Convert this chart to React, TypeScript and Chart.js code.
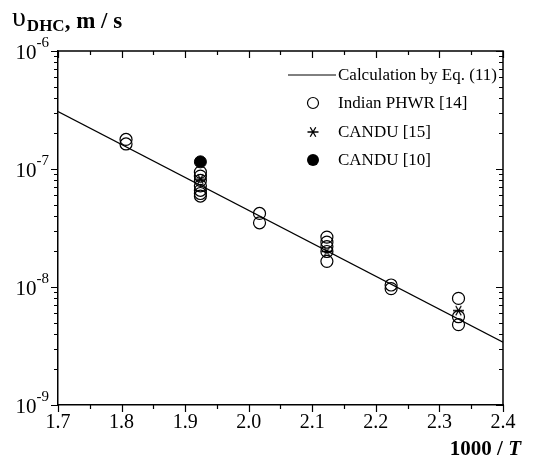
import React, { useEffect, useRef } from 'react';
import { Chart, registerables } from 'chart.js';

Chart.register(...registerables);

const FONT = "'Liberation Serif', 'Times New Roman', serif";

// Calculation by Eq. (11) (straight line in log space)
const lineX = [1.7, 2.4];
const lineY = [3.07e-7, 3.4e-9];

// Indian PHWR [14]
const phwrX = [
  1.807, 1.807,
  1.924, 1.924, 1.924, 1.924, 1.924, 1.924, 1.924,
  2.017, 2.017,
  2.123, 2.123, 2.123, 2.123, 2.123,
  2.224, 2.224,
  2.33, 2.33, 2.33,
];
const phwrY = [
  1.78e-7, 1.63e-7,
  9.4e-8, 8.7e-8, 8.0e-8, 7.2e-8, 6.6e-8, 6.2e-8, 5.9e-8,
  4.2e-8, 3.5e-8,
  2.65e-8, 2.4e-8, 2.2e-8, 2.0e-8, 1.65e-8,
  1.04e-8, 9.7e-9,
  8.0e-9, 5.6e-9, 4.8e-9,
];

// CANDU [15]
const candu15X = [1.924, 2.123, 2.33];
const candu15Y = [8.2e-8, 2.0e-8, 6.3e-9];

// CANDU [10]
const candu10X = [1.924];
const candu10Y = [1.15e-7];

const xMin = 1.7;
const xMax = 2.4;
const xStep = 0.1;
const yDecades = [-9, -8, -7, -6];
const legendLabels = ['Calculation by Eq. (11)', 'Indian PHWR [14]', 'CANDU [15]', 'CANDU [10]'];

function toPoints(xs: number[], ys: number[]) {
  return xs.map((x, i) => ({ x, y: ys[i] }));
}

function makeAsterisk(size: number): HTMLCanvasElement {
  const c = document.createElement('canvas');
  c.width = size;
  c.height = size;
  const g = c.getContext('2d')!;
  drawAsterisk(g, size / 2, size / 2, size / 2 - 1);
  return c;
}

function drawAsterisk(g: CanvasRenderingContext2D, cx: number, cy: number, r: number) {
  g.save();
  g.strokeStyle = '#000';
  g.lineWidth = 1.3;
  g.beginPath();
  const angles = [0, Math.PI / 3, -Math.PI / 3];
  for (const a of angles) {
    const dx = Math.cos(a) * r;
    const dy = Math.sin(a) * r;
    g.moveTo(cx - dx, cy - dy);
    g.lineTo(cx + dx, cy + dy);
  }
  g.stroke();
  g.restore();
}

const decorPlugin = {
  id: 'decor',
  afterDraw(chart: any) {
    const ctx: CanvasRenderingContext2D = chart.ctx;
    const { left, right, top, bottom } = chart.chartArea;
    const xs = chart.scales.x;
    const ys = chart.scales.y;
    ctx.save();
    ctx.strokeStyle = '#000';
    ctx.lineWidth = 1.5;
    ctx.beginPath();
    ctx.moveTo(left, top);
    ctx.lineTo(right, top);
    ctx.lineTo(right, bottom);
    ctx.stroke();

    ctx.lineWidth = 1.2;
    ctx.beginPath();
    const nX = Math.round((xMax - xMin) / (xStep / 2));
    for (let i = 0; i <= nX; i++) {
      const v = xMin + (i * xStep) / 2;
      const px = Math.round(xs.getPixelForValue(v)) + 0.5;
      const L = i % 2 === 0 ? 7 : 4;
      ctx.moveTo(px, bottom);
      ctx.lineTo(px, bottom + L);
      ctx.moveTo(px, top);
      ctx.lineTo(px, top + L);
    }
    for (let d = -9; d <= -6; d++) {
      for (let m = 1; m <= 9; m++) {
        if (d === -6 && m > 1) break;
        const v = m * Math.pow(10, d);
        const py = Math.round(ys.getPixelForValue(v)) + 0.5;
        const L = m === 1 ? 7 : 4;
        ctx.moveTo(left - L, py);
        ctx.lineTo(left, py);
        ctx.moveTo(right - L, py);
        ctx.lineTo(right, py);
      }
    }
    ctx.stroke();

    // y tick labels 10^n
    ctx.fillStyle = '#000';
    for (const d of yDecades) {
      const py = ys.getPixelForValue(Math.pow(10, d));
      const exp = String(d);
      ctx.font = `15px ${FONT}`;
      const ew = ctx.measureText(exp).width;
      const expRight = 49;
      ctx.textAlign = 'left';
      ctx.textBaseline = 'alphabetic';
      ctx.fillText(exp, expRight - ew, py - 4);
      ctx.font = `21px ${FONT}`;
      ctx.textAlign = 'right';
      ctx.textBaseline = 'alphabetic';
      ctx.fillText('10', expRight - ew, py + 8);
    }

    // y title: υDHC, m / s
    let tx = 12;
    ctx.textAlign = 'left';
    ctx.textBaseline = 'alphabetic';
    ctx.font = `28px ${FONT}`;
    ctx.fillText('υ', tx, 26);
    tx += ctx.measureText('υ').width + 1;
    ctx.font = `bold 17px ${FONT}`;
    ctx.fillText('DHC', tx, 31);
    tx += ctx.measureText('DHC').width;
    ctx.font = `bold 23px ${FONT}`;
    ctx.fillText(', m / s', tx, 28);

    // x title: 1000 / T
    ctx.font = `bold italic 21px ${FONT}`;
    const tw = ctx.measureText('T').width;
    ctx.font = `bold 21px ${FONT}`;
    const pw = ctx.measureText('1000 / ').width;
    const xEnd = 521;
    ctx.fillText('1000 / ', xEnd - tw - pw, 455);
    ctx.font = `bold italic 21px ${FONT}`;
    ctx.fillText('T', xEnd - tw, 455);

    // legend
    const rows = [75, 103, 132, 160];
    const mx = 313;
    const textX = 338;
    ctx.font = `17px ${FONT}`;
    ctx.textBaseline = 'middle';
    ctx.textAlign = 'left';
    ctx.lineWidth = 1;
    ctx.beginPath();
    ctx.moveTo(288, rows[0]);
    ctx.lineTo(336, rows[0]);
    ctx.stroke();
    ctx.lineWidth = 1.2;
    ctx.beginPath();
    ctx.arc(mx, rows[1], 5.5, 0, Math.PI * 2);
    ctx.stroke();
    drawAsterisk(ctx, mx, rows[2], 5.5);
    ctx.beginPath();
    ctx.arc(mx, rows[3], 6, 0, Math.PI * 2);
    ctx.fill();
    legendLabels.forEach((t, i) => ctx.fillText(t, textX, rows[i] + 1));
    ctx.restore();
  },
};

export default function App() {
  const ref = useRef<HTMLCanvasElement>(null);
  useEffect(() => {
    if (!ref.current) return;
    const asterisk = makeAsterisk(13);
    const chart = new Chart(ref.current, {
      type: 'scatter',
      data: {
        datasets: [
          {
            type: 'line',
            label: legendLabels[0],
            data: toPoints(lineX, lineY),
            borderColor: '#000',
            borderWidth: 1.2,
            pointRadius: 0,
            fill: false,
            tension: 0,
          },
          {
            label: legendLabels[1],
            data: toPoints(phwrX, phwrY),
            pointStyle: 'circle',
            pointRadius: 6,
            borderColor: '#000',
            borderWidth: 1.2,
            backgroundColor: 'rgba(0,0,0,0)',
          },
          {
            label: legendLabels[2],
            data: toPoints(candu15X, candu15Y),
            pointStyle: asterisk,
            pointRadius: 6,
            borderColor: '#000',
            backgroundColor: '#000',
          },
          {
            label: legendLabels[3],
            data: toPoints(candu10X, candu10Y),
            pointStyle: 'circle',
            pointRadius: 6,
            borderColor: '#000',
            borderWidth: 1,
            backgroundColor: '#000',
          },
        ],
      },
      options: {
        animation: false,
        responsive: false,
        maintainAspectRatio: false,
        layout: { padding: { left: 58, right: 44, top: 51, bottom: 27 } },
        plugins: { legend: { display: false }, tooltip: { enabled: false } },
        scales: {
          x: {
            type: 'linear',
            min: xMin,
            max: xMax,
            afterFit: (s: any) => { s.height = 40; },
            grid: { display: false, drawTicks: false },
            border: { display: true, color: '#000', width: 1.5 },
            ticks: {
              stepSize: xStep,
              autoSkip: false,
              maxRotation: 0,
              padding: 6,
              color: '#000',
              font: { family: FONT, size: 20 },
              callback: (v: any) => Number(v).toFixed(1),
            },
          },
          y: {
            type: 'logarithmic',
            min: 1e-9,
            max: 1e-6,
            afterFit: (s: any) => { s.width = 0; },
            grid: { display: false, drawTicks: false },
            border: { display: true, color: '#000', width: 1.5 },
            ticks: { display: false },
          },
        },
      },
      plugins: [decorPlugin],
    });
    return () => chart.destroy();
  }, []);
  return (
    <div style={{ position: 'absolute', left: 0, top: 0, width: 547, height: 472, background: '#fff' }}>
      <canvas ref={ref} width={547} height={472} style={{ display: 'block' }} />
    </div>
  );
}
